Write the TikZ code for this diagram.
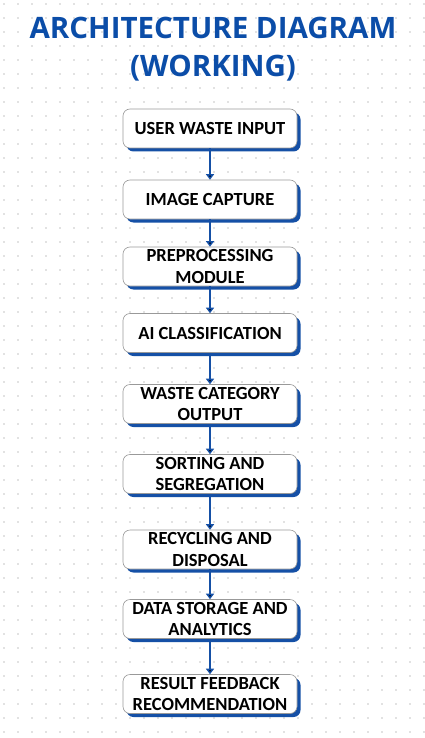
\documentclass[tikz,border=0pt]{standalone}
\usepackage{fontspec}
\setmainfont{Carlito}
\newfontfamily\titlefont{Open Sans}
\usetikzlibrary{arrows.meta,shadows}
\definecolor{titleblue}{HTML}{0B4DA8}
\definecolor{shadowblue}{HTML}{1550A6}
\definecolor{dotgray}{HTML}{E2E2E2}

\begin{document}
\begin{tikzpicture}[x=1pt, y=-1pt,
                stepbox/.style={rectangle, rounded corners=7pt, draw=black!40, line width=0.6pt, fill=white,
                    minimum width=174pt, minimum height=39pt, align=center, inner sep=2pt,
                    font=\fontsize{18.5}{21.5}\selectfont\bfseries,
                    drop shadow={shadow xshift=3.5pt, shadow yshift=-3.5pt, fill=shadowblue, opacity=1}},
                flow/.style={draw=shadowblue, line width=1.8pt, -{Triangle[width=8pt,length=5.5pt]}}]
                \useasboundingbox (0,0) rectangle (424,738);
                \fill[white] (0,0) rectangle (424,738);
                % background dots
                \foreach \x in {4,18,...,424}
                    \foreach \y in {4,18,...,738}
                        \fill[dotgray] (\x-1,\y-1) rectangle (\x+1,\y+1);
                \node[font=\titlefont\fontsize{29.5}{38}\selectfont\bfseries, text=titleblue, align=center] (title) at (213,49)
                    {ARCHITECTURE DIAGRAM\\(WORKING)};
                \node[stepbox] (input) at (210,128.5) {USER WASTE INPUT};
                \node[stepbox] (capture) at (210,199.5) {IMAGE CAPTURE};
                \node[stepbox] (preproc) at (210,266.5) {PREPROCESSING\\MODULE};
                \node[stepbox] (classify) at (210,333) {AI CLASSIFICATION};
                \node[stepbox] (category) at (210,404) {WASTE CATEGORY\\OUTPUT};
                \node[stepbox] (sorting) at (210,474) {SORTING AND\\SEGREGATION};
                \node[stepbox] (recycling) at (210,549.5) {RECYCLING AND\\DISPOSAL};
                \node[stepbox] (storage) at (210,619) {DATA STORAGE AND\\ANALYTICS};
                \node[stepbox] (feedback) at (210,694) {RESULT FEEDBACK\\RECOMMENDATION};
                \draw [flow] (input) edge (capture);
                \draw [flow] (capture) edge (preproc);
                \draw [flow] (preproc) edge (classify);
                \draw [flow] (classify) edge (category);
                \draw [flow] (category) edge (sorting);
                \draw [flow] (sorting) edge (recycling);
                \draw [flow] (recycling) edge (storage);
                \draw [flow] (storage) edge (feedback);
            \end{tikzpicture}
\end{document}
